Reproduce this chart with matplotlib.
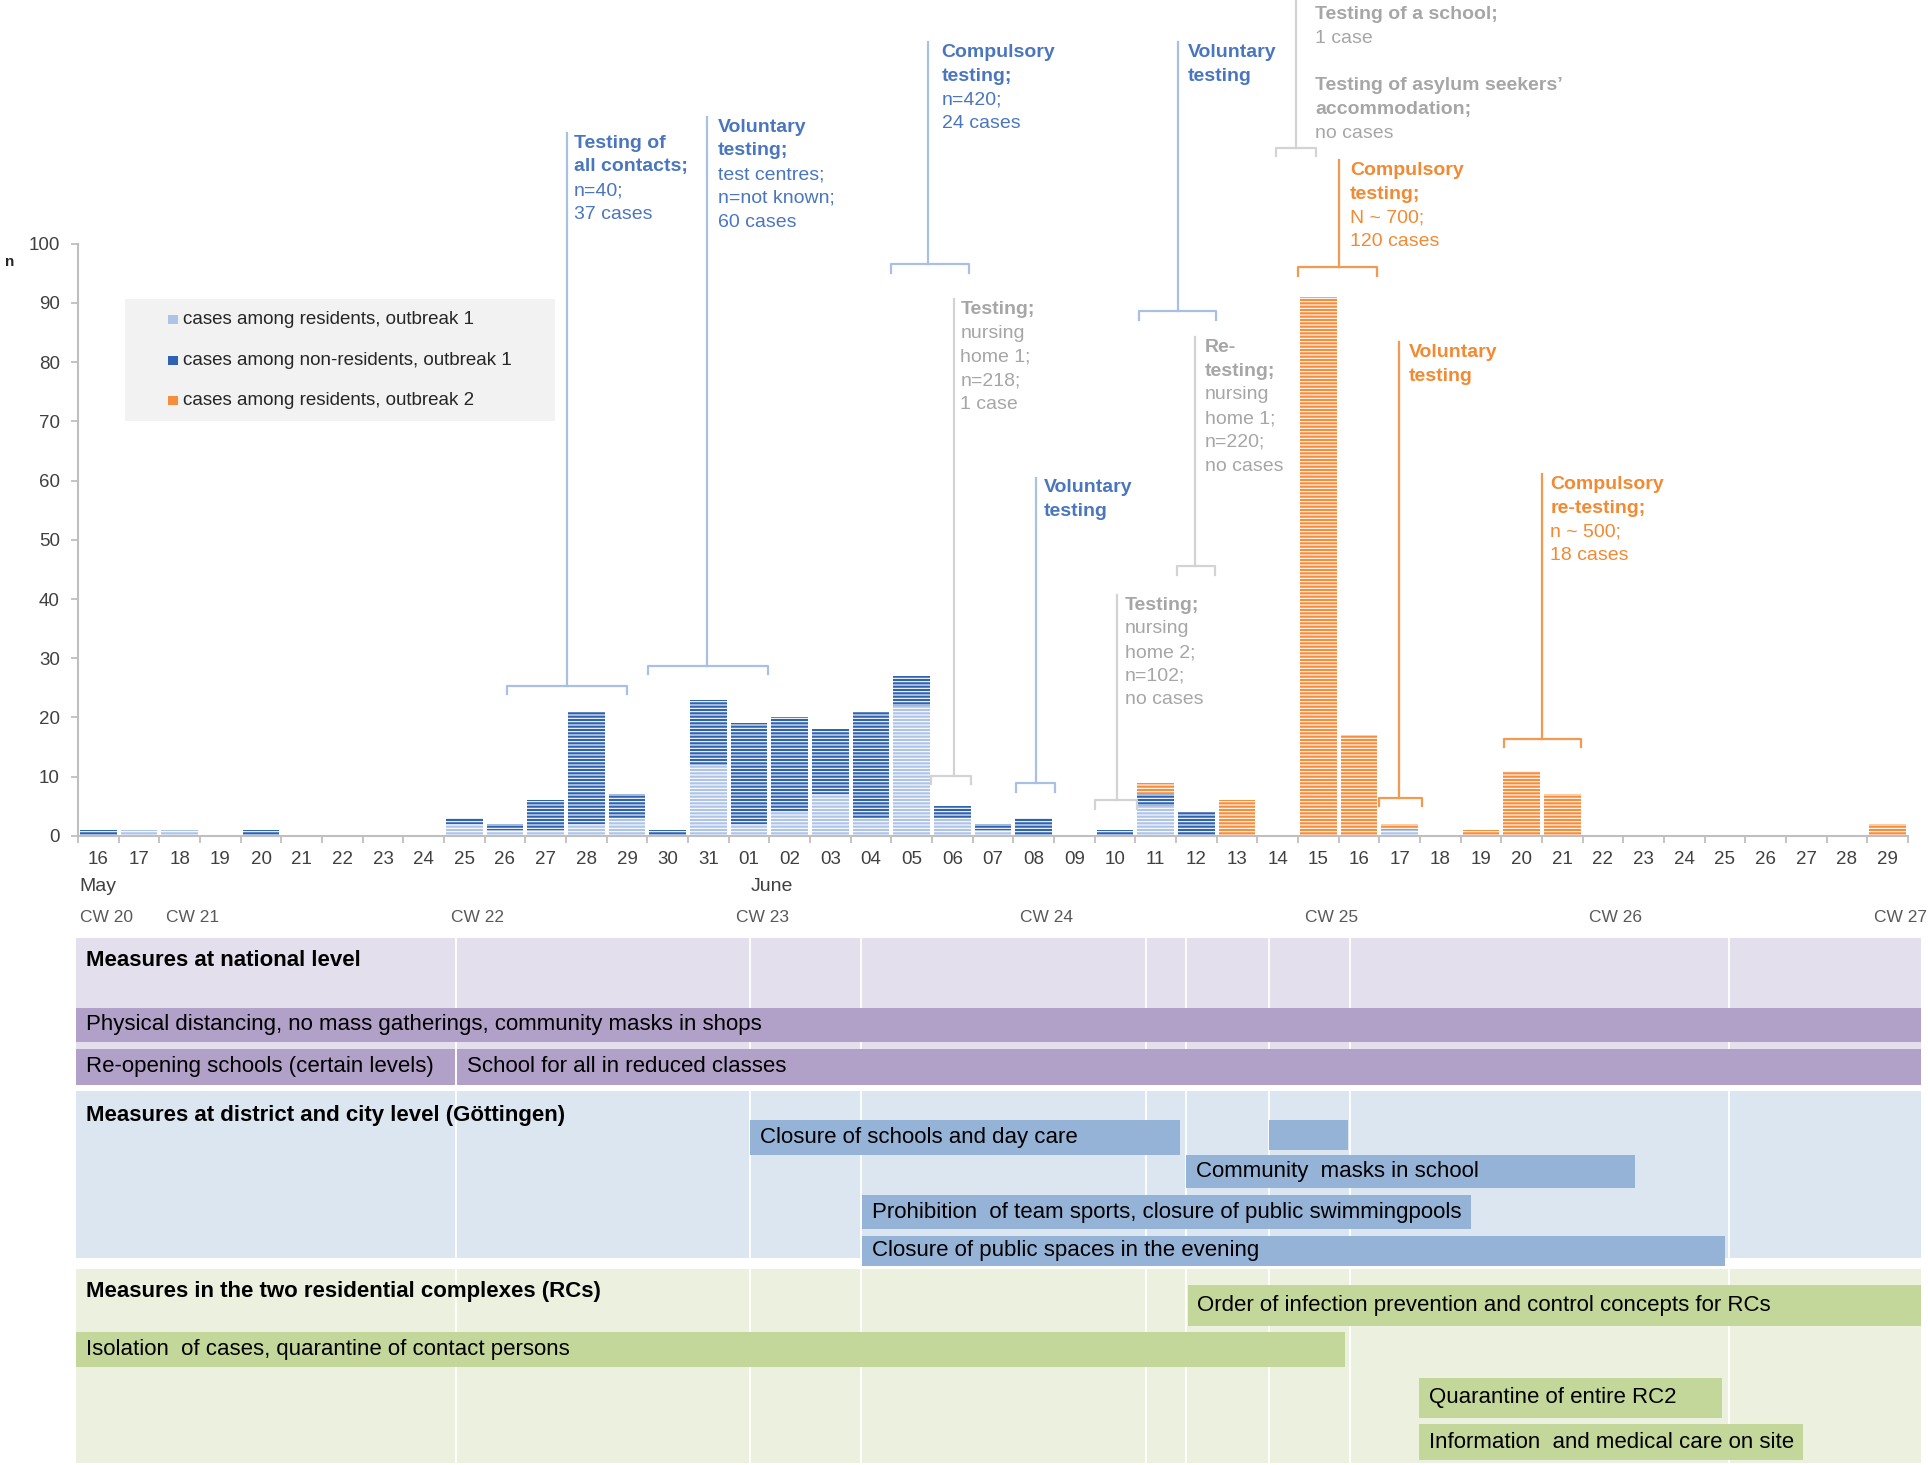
import numpy as np
import pandas as pd
import matplotlib
matplotlib.use("Agg")
import matplotlib.pyplot as plt
from matplotlib.patches import Rectangle

plt.rcParams['font.family'] = ['Liberation Sans', 'DejaVu Sans']
plt.rcParams['hatch.linewidth'] = 0.8

## data: daily cases, 16 May - 29 June 2020
days = pd.date_range('2020-05-16', '2020-06-29')
day_labels = [d.strftime('%d') for d in days]

res1 = [0, 1, 1, 0, 0, 0, 0, 0, 0, 2, 1, 1, 2, 3, 0, 12, 2, 4, 7, 3, 22, 3, 1, 0, 0,
        0, 5, 0, 0, 0, 0, 0, 1, 0, 0, 0, 0, 0, 0, 0, 0, 0, 0, 0, 0]
nonres1 = [1, 0, 0, 0, 1, 0, 0, 0, 0, 1, 1, 5, 19, 4, 1, 11, 17, 16, 11, 18, 5, 2, 1, 3, 0,
           1, 2, 4, 0, 0, 0, 0, 0, 0, 0, 0, 0, 0, 0, 0, 0, 0, 0, 0, 0]
res2 = [0, 0, 0, 0, 0, 0, 0, 0, 0, 0, 0, 0, 0, 0, 0, 0, 0, 0, 0, 0, 0, 0, 0, 0, 0,
        0, 2, 0, 6, 0, 91, 17, 1, 0, 1, 11, 7, 0, 0, 0, 0, 0, 0, 0, 2]
series_names = ['cases among residents, outbreak 1',
                'cases among non-residents, outbreak 1',
                'cases among residents, outbreak 2']

month_names = ['May', 'June']
month_day = [0, 16]
cw_names = ['CW 20', 'CW 21', 'CW 22', 'CW 23', 'CW 24', 'CW 25', 'CW 26', 'CW 27']
cw_day = [0, 2, 9, 16, 23, 30, 37, 44]

## testing annotations
ann_lines = [
    ['Testing of', 'all contacts;', 'n=40;', '37 cases'],
    ['Voluntary', 'testing;', 'test centres;', 'n=not known;', '60 cases'],
    ['Compulsory', 'testing;', 'n=420;', '24 cases'],
    ['Testing;', 'nursing', 'home 1;', 'n=218;', '1 case'],
    ['Voluntary', 'testing'],
    ['Testing;', 'nursing', 'home 2;', 'n=102;', 'no cases'],
    ['Voluntary', 'testing'],
    ['Re-', 'testing;', 'nursing', 'home 1;', 'n=220;', 'no cases'],
    ['Testing of a school;', '1 case', '', 'Testing of asylum seekers\u2019', 'accommodation;', 'no cases'],
    ['Compulsory', 'testing;', 'N ~ 700;', '120 cases'],
    ['Voluntary', 'testing'],
    ['Compulsory', 're-testing;', 'n ~ 500;', '18 cases'],
]
ann_bold = [[0, 1], [0, 1], [0, 1], [0], [0, 1], [0], [0, 1], [0, 1], [0, 3, 4], [0, 1], [0, 1], [0, 1]]
ann_kind = ['b', 'b', 'b', 'g', 'b', 'g', 'b', 'g', 'g', 'o', 'o', 'o']
ann_start = [10.04, 13.52, 19.5, 20.47, 22.56, 24.52, 25.6, 26.52, 28.97, 29.51, 31.49, 34.56]
ann_end = [13.0, 16.48, 21.4, 21.47, 23.53, 25.55, 27.49, 27.46, 29.95, 31.45, 32.54, 36.46]
ann_stem = [11.52, 14.97, 20.41, 21.05, 23.07, 25.04, 26.55, 26.97, 29.45, 30.51, 31.99, 35.5]
ann_level = [25.4, 28.7, 96.5, 10.2, 8.9, 6.0, 88.6, 45.5, 116.2, 96.0, 6.4, 16.4]
ann_top = [118.7, 121.4, 134.0, 90.6, 60.5, 40.7, 134.0, 84.2, 141.5, 114.1, 83.4, 61.1]
ann_textx = [0.18, 0.27, 0.33, 0.15, 0.18, 0.21, 0.24, 0.24, 0.48, 0.27, 0.24, 0.21]
ann_texty = [118.7, 121.4, 134.0, 90.6, 60.5, 40.7, 134.0, 84.2, 140.4, 114.1, 83.4, 61.1]

## measures (day index from 16 May)
group_names = ['Measures at national level',
               'Measures at district and city level (G\u00f6ttingen)',
               'Measures in the two residential complexes (RCs)']
m_label = ['Physical distancing, no mass gatherings, community masks in shops',
           'Re-opening schools (certain levels)',
           'School for all in reduced classes',
           'Closure of schools and day care',
           '',
           'Community  masks in school',
           'Prohibition  of team sports, closure of public swimmingpools',
           'Closure of public spaces in the evening',
           'Order of infection prevention and control concepts for RCs',
           'Isolation  of cases, quarantine of contact persons',
           'Quarantine of entire RC2',
           'Information  and medical care on site']
m_group = [0, 0, 0, 1, 1, 1, 1, 1, 2, 2, 2, 2]
m_start = [-0.55, -0.55, 8.83, 16.03, 28.79, 26.76, 18.78, 18.78, 26.79, -0.55, 32.48, 32.48]
m_end = [44.82, 8.77, 44.82, 26.61, 30.72, 37.8, 33.75, 40.0, 44.82, 30.66, 39.92, 41.91]
m_marks = [8.8, 16.03, 18.75, 25.76, 26.76, 28.79, 30.78, 40.1]

## layout (reference units 1568 x 1190)
W, H = 1568.0, 1190.0
x0, dx = 80.0, 33.07
m_lane = [(819, 846), (852, 881), (852, 881), (910, 938), (910, 934), (938, 965),
          (971, 998), (1004, 1028), (1044, 1077), (1082, 1110), (1119, 1152), (1157, 1186)]
g_span = [(762, 881), (886, 1022), (1031, 1188)]
g_head = [780, 906, 1049]
g_bg = ['#e4dfec', '#dce6f1', '#ebf1de']
g_bar = ['#b1a0c7', '#95b3d7', '#c4d79b']

c_light, c_dark, c_orange = '#adc4e8', '#2f62b0', '#f58d3c'
txt_col = {'b': '#4a76c0', 'g': '#a6a6a6', 'o': '#f28a33'}
line_col = {'b': '#a9c0e4', 'g': '#d3d3d3', 'o': '#f39a50'}
axis_col = '#bfbfbf'

fig = plt.figure(figsize=(19.28, 14.65), dpi=100)

## bar chart
left = (x0 - 0.5 * dx) / W
right = (x0 + 44.5 * dx) / W
ax = fig.add_axes([left, 1 - 679 / H, right - left, (679 - 198) / H])
x = np.arange(len(days))
b1 = np.array(res1)
b2 = np.array(nonres1)
b3 = np.array(res2)
kw = dict(width=0.9, edgecolor='white', linewidth=0, hatch='-----', zorder=2)
ax.bar(x, b1, color=c_light, **kw)
ax.bar(x, b2, bottom=b1, color=c_dark, **kw)
ax.bar(x, b3, bottom=b1 + b2, color=c_orange, **kw)

ax.set_xlim(-0.5, 44.5)
ax.set_ylim(0, 100)
ax.set_yticks(np.arange(0, 101, 10))
ax.set_xticks(x)
ax.set_xticklabels(day_labels)
ax.set_xticks(np.arange(-0.5, 45, 1), minor=True)
ax.tick_params(axis='x', which='major', length=0, pad=11, labelsize=13.5, labelcolor='#404040')
ax.tick_params(axis='x', which='minor', length=5, width=1.3, color=axis_col)
ax.tick_params(axis='y', length=5, width=1.3, color=axis_col, pad=8, labelsize=13.5, labelcolor='#404040')
for s in ['top', 'right']:
    ax.spines[s].set_visible(False)
for s in ['left', 'bottom']:
    ax.spines[s].set_color(axis_col)
    ax.spines[s].set_linewidth(1.5)

ax.text(-2.3, 96.9, 'n', fontsize=11, weight='bold', color='#262626', ha='left', va='center', clip_on=False)
for name, d in zip(month_names, month_day):
    ax.text(d - 0.47 if d == 0 else d + 0.05, -8.6, name, fontsize=14, color='#404040',
            ha='left', va='center', clip_on=False)
for name, d in zip(cw_names, cw_day):
    ax.text(d - 0.45 if d == 0 else d - 0.33, -13.8, name, fontsize=12.5, color='#595959',
            ha='left', va='center', clip_on=False)

## legend box
ax.add_patch(Rectangle((0.66, 70.1), 10.56, 20.6, facecolor='#f2f2f2', edgecolor='none', zorder=1))
for name, col, yc in zip(series_names, [c_light, c_dark, c_orange], [87.2, 80.3, 73.5]):
    ax.add_patch(Rectangle((1.72, yc - 0.75), 0.25, 1.5, facecolor=col, edgecolor='none', zorder=3))
    ax.text(2.09, yc, name, fontsize=13.5, color='#262626', ha='left', va='center', zorder=3)

## annotations with brackets
lh = 4.0
for lines, bold, k, a, b, st, lv, top, tx, ty in zip(ann_lines, ann_bold, ann_kind, ann_start, ann_end,
                                                     ann_stem, ann_level, ann_top, ann_textx, ann_texty):
    lc = line_col[k]
    ax.plot([a, a, b, b], [lv - 1.4, lv, lv, lv - 1.4], color=lc, lw=1.6, clip_on=False,
            solid_joinstyle='round', zorder=4)
    ax.plot([st, st], [lv, top], color=lc, lw=1.6, clip_on=False, zorder=4)
    for i, line in enumerate(lines):
        ax.text(st + tx, ty - 0.3 - i * lh, line, fontsize=14, color=txt_col[k],
                weight='bold' if i in bold else 'normal', ha='left', va='top', clip_on=False)

## measures panel
ml = x0 - 0.55 * dx
mr = x0 + 44.82 * dx
ax2 = fig.add_axes([ml / W, 0, (mr - ml) / W, 1 - 758 / H])
ax2.set_xlim(-0.55, 44.82)
ax2.set_ylim(H, 758)
ax2.axis('off')
for (t, bt), col in zip(g_span, g_bg):
    ax2.axhspan(t, bt, color=col, lw=0, zorder=0)
ax2.vlines(m_marks, 762, 1188, color='white', lw=1.3, zorder=1)
for name, yh in zip(group_names, g_head):
    ax2.text(-0.55 + 0.24, yh, name, fontsize=16, weight='bold', color='black', ha='left', va='center', zorder=3)
for lab, g, a, b, (t, bt) in zip(m_label, m_group, m_start, m_end, m_lane):
    ax2.barh((t + bt) / 2, b - a, left=a, height=bt - t, color=g_bar[g], lw=0, zorder=2)
    ax2.text(a + 0.24, (t + bt) / 2, lab, fontsize=16, color='black', ha='left', va='center', zorder=3)

fig.savefig('out.png', dpi=100)
